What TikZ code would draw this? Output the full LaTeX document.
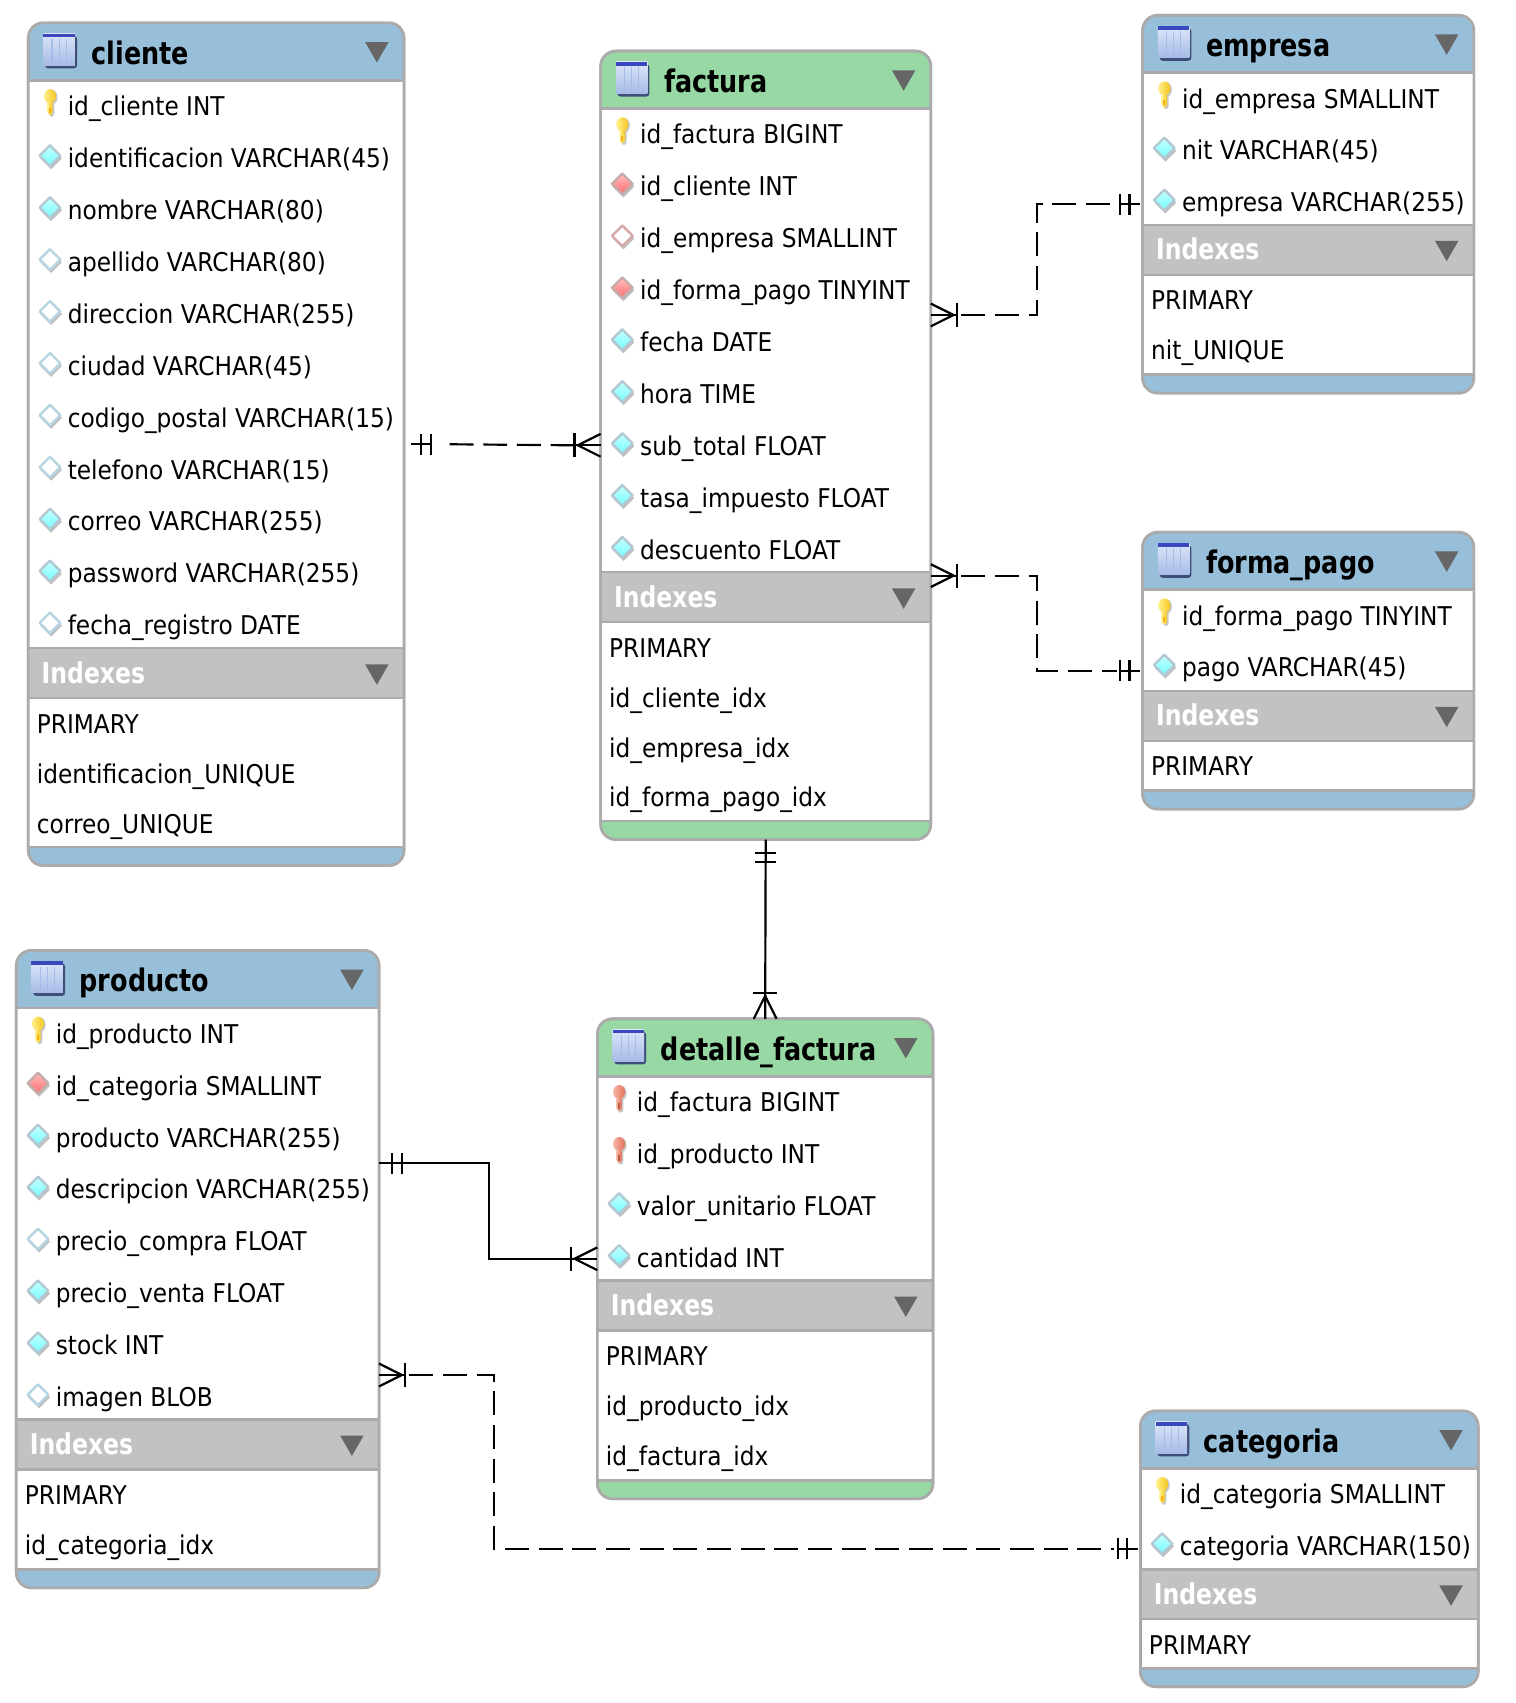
\documentclass[tikz,border=0pt]{standalone}
\usepackage{fontspec}
\setmainfont[FakeStretch=0.9,BoldFeatures={FakeStretch=0.82}]{DejaVu Sans}
\usetikzlibrary{fit,shapes.geometric}

\definecolor{headblue}{HTML}{98BFDA}
\definecolor{headgreen}{HTML}{98D8A4}
\definecolor{indexgray}{HTML}{C2C2C2}
\definecolor{edgegray}{HTML}{ABABAB}
\definecolor{sidegray}{HTML}{8E8E8E}
\definecolor{arrowgray}{HTML}{666666}
\definecolor{iconlight}{HTML}{DCE6F8}
\definecolor{icondark}{HTML}{A6BBE6}
\definecolor{iconband}{HTML}{3A48C0}
\definecolor{iconshadow}{HTML}{3E4E78}
\definecolor{keygold}{HTML}{F4C41C}
\definecolor{keypale}{HTML}{FFF08A}
\definecolor{keyrust}{HTML}{E4705A}
\definecolor{keyrose}{HTML}{F8B8A8}

% key and diamond marks, origin in the middle of the mark
\newcommand{\keyshape}[3]{
    \fill[black!22] (1.5,-6) ellipse (5.5 and 7);
    \fill[black!22,rounded corners=1.5pt] (-1,-2) rectangle (4,12);
    \shade[left color=#1,right color=#2] (0,-7) ellipse (5.5 and 6.5);
    \shade[left color=#1,right color=#2,rounded corners=1.5pt] (-2.5,-3) rectangle (2.5,10.5);
    \fill[#3] (-.8,3.5) rectangle (.5,8.5);
}
\newcommand{\diamondshape}[3]{
    \fill[black!25] (-9,2.5) -- (1,-7.5) -- (11,2.5) -- (1,12.5) -- cycle;
    \draw[draw=#1,line width=1.1pt,top color=#2,bottom color=#3,line join=round]
        (-9.5,0) -- (0,-9.5) -- (9.5,0) -- (0,9.5) -- cycle;
}

\tikzset{
    tablebox/.style={draw=edgegray,line width=1.2pt,rounded corners=7pt,inner sep=0pt,outer sep=0pt},
    tablebody/.style={draw=sidegray,line width=1pt,fill=white},
    indexbar/.style={draw=edgegray,line width=1pt,fill=indexgray},
    tabletitle/.style={anchor=base west,inner sep=0pt,font=\fontsize{14.3}{16}\selectfont\bfseries},
    indextitle/.style={anchor=base west,inner sep=0pt,text=white,font=\fontsize{13.2}{15}\selectfont\bfseries},
    rowtext/.style={anchor=base west,inner sep=0pt,font=\fontsize{11.9}{14}\selectfont},
    collapse/.style={draw=none,fill=arrowgray,regular polygon,regular polygon sides=3,shape border rotate=180,minimum size=12.5pt,inner sep=0pt},
    relline/.style={black,line width=1pt},
    reldash/.style={relline,dash pattern=on 11pt off 4.5pt},
    keyyellow/.pic={\keyshape{keypale}{keygold}{keygold!70!orange}},
    keyred/.pic={\keyshape{keyrose}{keyrust}{keyrust!80!black}},
    diacyan/.pic={\diamondshape{cyan!30!gray!55}{cyan!22!white}{cyan!55!white}},
    diaopen/.pic={\diamondshape{cyan!45!gray!45}{white}{white}},
    diared/.pic={\diamondshape{red!20!gray!55}{red!25!white}{red!58!white}},
    diaredopen/.pic={\diamondshape{red!35!gray!50}{white}{white}},
    tableicon/.pic={
        \fill[iconshadow,rounded corners=1.5pt] (1.5,2) rectangle (31,32);
        \shade[top color=iconlight,bottom color=icondark] (0,0) rectangle (29,29);
        \fill[iconband] (0,0) rectangle (29,3.5);
        \foreach \xline in {8,14.5,21}
            \draw[icondark,line width=.6pt] (\xline,5) -- (\xline,27);
    },
    manymark/.pic={
        \draw[relline] (0,-10.5) -- (21,0) -- (0,10.5);
        \draw[relline] (0,0) -- (24,0);
        \draw[relline] (24,-11) -- (24,11);
    },
    onemark/.pic={
        \draw[relline] (2,0) -- (21,0);
        \draw[relline] (12,-9.5) -- (12,9.5);
        \draw[relline] (21,-9.5) -- (21,9.5);
    }
}

% name, colour, left, right, top, top of indexes, bottom, columns, indexes
\newcommand{\dbtable}[9]{
    \node[tablebox,fill=#2,fit={(#3,#5) (#4,#7)}] (#1) {};
    \draw[tablebody] (#3,#5+53) rectangle (#4,#7-17);
    \draw[indexbar] (#3,#6) rectangle (#4,#6+46);
    \draw[edgegray,line width=1.2pt] (#3,#5+53) -- (#4,#5+53);
    \draw[edgegray,line width=1.2pt] (#3,#7-17) -- (#4,#7-17);
    \draw[tablebox,fill=none] (#1.south west) rectangle (#1.north east);
    \pic at (#3+14,#5+10) {tableicon};
    \node[tabletitle] (#1-title) at (#3+58,#5+38) {\detokenize{#1}};
    \node[collapse] (#1-fold) at (#4-25,#5+24) {};
    \foreach \kind/\txt [count=\i] in {#8} {
        \pgfmathsetmacro{\rowy}{#5+77.5+47.8*(\i-1)}
        \pic at (#3+20,\rowy-3) {\kind};
        \node[rowtext] (#1-col\i) at (#3+36,\rowy+8) {\txt};
    }
    \node[indextitle] (#1-idx) at (#3+12,#6+32) {Indexes};
    \node[collapse] (#1-idxfold) at (#4-25,#6+21) {};
    \foreach \txt [count=\i] in {#9} {
        \pgfmathsetmacro{\rowy}{#6+69+46*(\i-1)}
        \node[rowtext] (#1-key\i) at (#3+7.5,\rowy+9) {\txt};
    }
}

\begin{document}
\begin{tikzpicture}[x=0.5pt,y=-0.5pt]
    \useasboundingbox (0,0) rectangle (1395,1568);

    \dbtable{cliente}{headblue}{26}{372}{21}{597}{797}
        {keyyellow/id\_cliente INT,diacyan/identificacion VARCHAR(45),diacyan/nombre VARCHAR(80),
         diaopen/apellido VARCHAR(80),diaopen/direccion VARCHAR(255),diaopen/ciudad VARCHAR(45),
         diaopen/codigo\_postal VARCHAR(15),diaopen/telefono VARCHAR(15),diacyan/correo VARCHAR(255),
         diacyan/password VARCHAR(255),diaopen/fecha\_registro DATE}
        {PRIMARY,identificacion\_UNIQUE,correo\_UNIQUE}
    \dbtable{factura}{headgreen}{553}{857}{47}{527}{773}
        {keyyellow/id\_factura BIGINT,diared/id\_cliente INT,diaredopen/id\_empresa SMALLINT,
         diared/id\_forma\_pago TINYINT,diacyan/fecha DATE,diacyan/hora TIME,diacyan/sub\_total FLOAT,
         diacyan/tasa\_impuesto FLOAT,diacyan/descuento FLOAT}
        {PRIMARY,id\_cliente\_idx,id\_empresa\_idx,id\_forma\_pago\_idx}
    \dbtable{empresa}{headblue}{1052}{1357}{14}{207}{362}
        {keyyellow/id\_empresa SMALLINT,diacyan/nit VARCHAR(45),diacyan/empresa VARCHAR(255)}
        {PRIMARY,nit\_UNIQUE}
    \dbtable{forma_pago}{headblue}{1052}{1357}{490}{636}{745}
        {keyyellow/id\_forma\_pago TINYINT,diacyan/pago VARCHAR(45)}
        {PRIMARY}
    \dbtable{producto}{headblue}{15}{349}{875}{1307}{1462}
        {keyyellow/id\_producto INT,diared/id\_categoria SMALLINT,diacyan/producto VARCHAR(255),
         diacyan/descripcion VARCHAR(255),diaopen/precio\_compra FLOAT,diacyan/precio\_venta FLOAT,
         diacyan/stock INT,diaopen/imagen BLOB}
        {PRIMARY,id\_categoria\_idx}
    \dbtable{detalle_factura}{headgreen}{550}{859}{938}{1179}{1380}
        {keyred/id\_factura BIGINT,keyred/id\_producto INT,diacyan/valor\_unitario FLOAT,diacyan/cantidad INT}
        {PRIMARY,id\_producto\_idx,id\_factura\_idx}
    \dbtable{categoria}{headblue}{1050}{1361}{1299}{1445}{1553}
        {keyyellow/id\_categoria SMALLINT,diacyan/categoria VARCHAR(150)}
        {PRIMARY}

    % bends of the relations
    \coordinate (bendempresa) at (955,240);
    \coordinate (bendpago) at (955,575);
    \coordinate (bendproducto) at (450,1115);
    \coordinate (bendcategoria) at (455,1350);

    \draw[reldash] ([xshift=-12pt]factura.west) -- ([xshift=18pt]cliente.east);
    \pic[rotate=180] at (factura.west) {manymark};
    \pic at ([xshift=2pt]cliente.east) {onemark};

    \draw[reldash] ([xshift=14pt,yshift=60pt]factura.east) -| (bendempresa) |- ([xshift=-12pt]empresa.west);
    \pic at ([yshift=60pt]factura.east) {manymark};
    \pic[rotate=180] at (empresa.west) {onemark};

    \draw[reldash] ([xshift=14pt,yshift=-60pt]factura.east) -| (bendpago) |- ([xshift=-12pt]forma_pago.west);
    \pic at ([yshift=-60pt]factura.east) {manymark};
    \pic[rotate=180] at (forma_pago.west) {onemark};

    \draw[relline] (factura.south) -- (detalle_factura.north);
    \pic[rotate=-90] at (factura.south) {onemark};
    \pic[rotate=90] at (detalle_factura.north) {manymark};

    \draw[relline] ([yshift=48.75pt]producto.east) -| (bendproducto) |- (detalle_factura.west);
    \pic at ([yshift=48.75pt]producto.east) {onemark};
    \pic[rotate=180] at (detalle_factura.west) {manymark};

    \draw[reldash] ([xshift=14pt,yshift=-48.75pt]producto.east) -| (bendcategoria) |- ([xshift=-12pt]categoria.west);
    \pic at ([yshift=-48.75pt]producto.east) {manymark};
    \pic[rotate=180] at (categoria.west) {onemark};
\end{tikzpicture}
\end{document}
